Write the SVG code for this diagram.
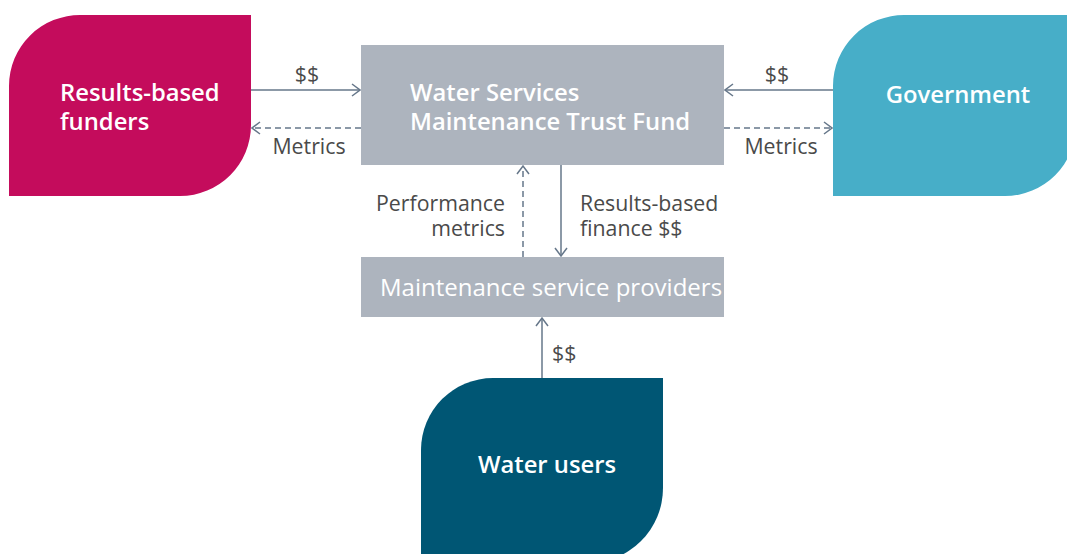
<svg xmlns="http://www.w3.org/2000/svg" width="1067" height="554" viewBox="0 0 1067 554">
<style>
.lbl{font-family:"Open Sans","Liberation Sans",sans-serif;font-size:21.3px;fill:#4a4a4a}
.ntxt{font-family:"Open Sans","Liberation Sans",sans-serif;font-size:23.8px;fill:#ffffff;font-weight:600}
.btxt{font-family:"Open Sans","Liberation Sans",sans-serif;font-size:24px;fill:#ffffff}
.ln{stroke:#66778a;stroke-width:1.5;fill:none}
.dash{stroke-dasharray:6 4}
</style>
<defs>
<marker id="ah" viewBox="0 0 10 14" refX="9" refY="7" markerWidth="10" markerHeight="14" markerUnits="userSpaceOnUse" orient="auto">
<path d="M1,1 L9,7 L1,13" fill="none" stroke="#66778a" stroke-width="1.5"/>
</marker>
</defs>
<rect width="1067" height="554" fill="#ffffff"/>
<g id="funders">
<path d="M81,15 H251 V125 A71,71 0 0 1 180,196 H9 V86 A71,71 0 0 1 81,15 Z" fill="#c40c5c"/>
<text class="ntxt"><tspan x="60" y="101">Results-based</tspan><tspan x="60" y="130">funders</tspan></text>
</g>
<g id="government">
<path d="M905,15 H1076 V125 A71,71 0 0 1 1005,196 H833 V86 A71,71 0 0 1 905,15 Z" fill="#47aec8"/>
<text class="ntxt" x="958" y="103" text-anchor="middle">Government</text>
</g>
<g id="trustfund">
<rect x="361" y="45" width="363" height="120" fill="#adb4be"/>
<text class="ntxt"><tspan x="410" y="101">Water Services</tspan><tspan x="410" y="130">Maintenance Trust Fund</tspan></text>
</g>
<g id="providers">
<rect x="361" y="257" width="363" height="60" fill="#adb4be"/>
<text class="btxt" x="380" y="296">Maintenance service providers</text>
</g>
<g id="waterusers">
<path d="M493,378 H663 V488 A75,75 0 0 1 588,563 H421 V450 A72,72 0 0 1 493,378 Z" fill="#005674"/>
<text class="ntxt" x="547" y="473" text-anchor="middle">Water users</text>
</g>
<g id="connectors">
<line class="ln" x1="251" y1="90" x2="360" y2="90" marker-end="url(#ah)"/>
<line class="ln dash" x1="361" y1="128" x2="252" y2="128" marker-end="url(#ah)"/>
<line class="ln" x1="833" y1="90" x2="725" y2="90" marker-end="url(#ah)"/>
<line class="ln dash" x1="724" y1="128" x2="832" y2="128" marker-end="url(#ah)"/>
<line class="ln dash" x1="523" y1="257" x2="523" y2="166" marker-end="url(#ah)"/>
<line class="ln" x1="561" y1="165" x2="561" y2="256" marker-end="url(#ah)"/>
<line class="ln" x1="542" y1="378" x2="542" y2="318" marker-end="url(#ah)"/>
</g>
<g id="labels">
<text class="lbl" x="307" y="82" text-anchor="middle">$$</text>
<text class="lbl" x="309" y="154" text-anchor="middle">Metrics</text>
<text class="lbl" x="777" y="82" text-anchor="middle">$$</text>
<text class="lbl" x="781" y="154" text-anchor="middle">Metrics</text>
<text class="lbl" text-anchor="end"><tspan x="505" y="211">Performance</tspan><tspan x="505" y="236">metrics</tspan></text>
<text class="lbl"><tspan x="580" y="211">Results-based</tspan><tspan x="580" y="236">finance $$</tspan></text>
<text class="lbl" x="552" y="361">$$</text>
</g>
</svg>
